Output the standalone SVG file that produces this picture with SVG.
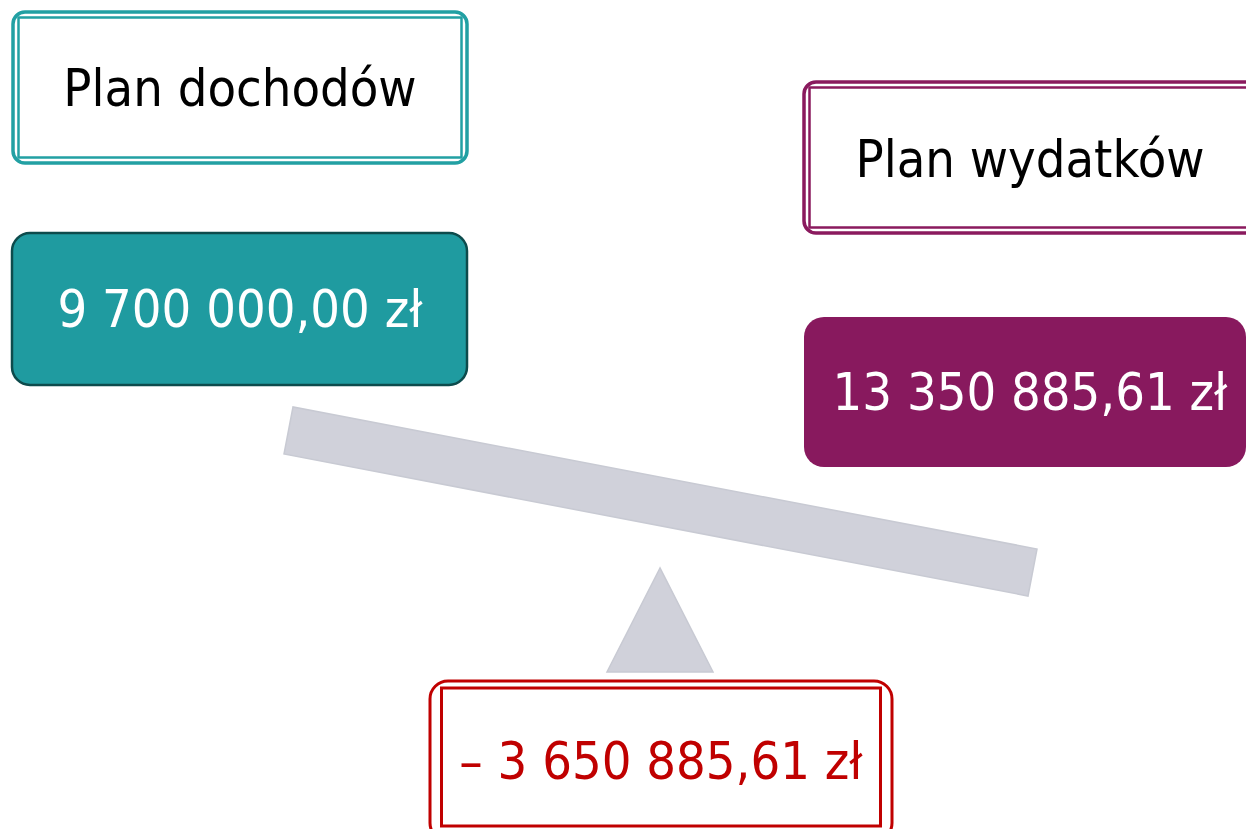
<svg xmlns="http://www.w3.org/2000/svg" width="1246" height="829" viewBox="0 0 1246 829">
<style>
text{font-family:"DejaVu Sans Condensed","DejaVu Sans",sans-serif;font-size:52px;text-anchor:middle}
.dark{fill:#000}
.light{fill:#fff}
.red{fill:#C00000}
</style>
<rect width="1246" height="829" fill="#fff"/>
<g id="scale">
<polygon points="293,407 284,454 1028,596 1037,549" fill="#D0D1DA" stroke="#C8CAD3" stroke-width="1.5"/>
<polygon points="660,568 607,672 713,672" fill="#D0D1DA" stroke="#C8CAD3" stroke-width="1.5"/>
</g>
<g id="plan-dochodow">
<rect x="13" y="12" width="454" height="151" rx="12" fill="#fff" stroke="#22A0A3" stroke-width="3.5"/>
<rect x="18.5" y="17.5" width="443" height="140" fill="none" stroke="#22A0A3" stroke-width="2.5"/>
<text class="dark" x="240" y="106">Plan dochodów</text>
</g>
<g id="dochody">
<rect x="12" y="233" width="455" height="152" rx="18" fill="#1F9BA0" stroke="#0D4B4C" stroke-width="2.5"/>
<text class="light" x="240" y="327">9 700 000,00 zł</text>
</g>
<g id="plan-wydatkow">
<rect x="804" y="82" width="460" height="151" rx="12" fill="#fff" stroke="#8A1A5E" stroke-width="3.5"/>
<rect x="809.5" y="87.5" width="450" height="140" fill="none" stroke="#8A1A5E" stroke-width="2.5"/>
<text class="dark" x="1030" y="177">Plan wydatków</text>
</g>
<g id="wydatki">
<rect x="804" y="317" width="442" height="150" rx="20" fill="#88195E"/>
<text class="light" x="1030" y="410">13 350 885,61 zł</text>
</g>
<g id="deficyt">
<rect x="430" y="681" width="462" height="160" rx="18" fill="#fff" stroke="#C00000" stroke-width="3"/>
<rect x="441.5" y="688" width="439" height="138" fill="none" stroke="#C00000" stroke-width="3"/>
<text class="red" x="661" y="779">– 3 650 885,61 zł</text>
</g>
<g id="connectors"/>
</svg>
